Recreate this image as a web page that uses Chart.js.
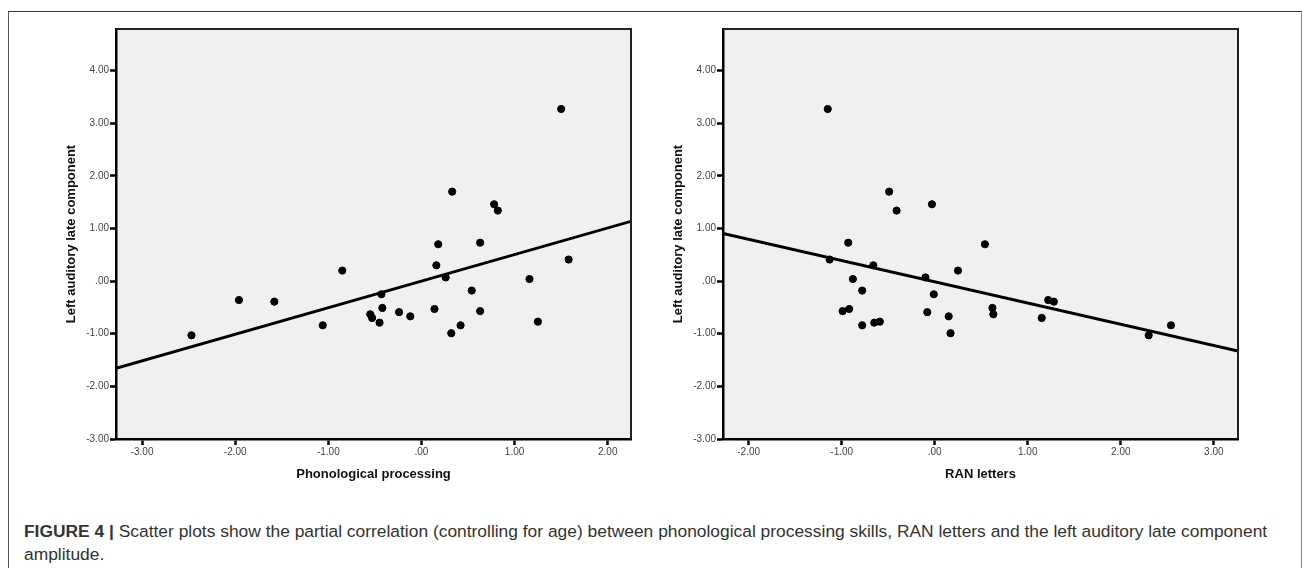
<!DOCTYPE html>
<html>
<head>
<meta charset="utf-8">
<script src="https://cdn.jsdelivr.net/npm/chart.js@4"></script>
<style>
  body { margin: 0; background: #fff; width: 1303px; height: 568px; overflow: hidden; position: relative; }
  #frame { position: absolute; left: 8px; top: 11px; width: 1292px; height: 600px;
           border-top: 1px solid #333; border-left: 1px solid #555; border-right: 1px solid #888; }
  canvas { position: absolute; top: 0; }
  #left { left: 0; }
  #right { left: 607px; }
  #caption { position: absolute; left: 24px; top: 520px; font-family: "Liberation Sans", Arial, sans-serif;
             font-size: 17.4px; line-height: 23px; color: #333; white-space: nowrap; }
  #caption b { color: #333; }
</style>
</head>
<body>
<div id="frame"></div>
<canvas id="left" width="660" height="490"></canvas>
<canvas id="right" width="660" height="490"></canvas>
<div id="caption"><b>FIGURE 4 |</b> Scatter plots show the partial correlation (controlling for age) between phonological processing skills, RAN letters and the left auditory late component<br>amplitude.</div>

<script>
// left auditory late component amplitude, one value per child
let amplitude = [-1.03, -0.36, -0.39, -0.84, 0.20, -0.63, -0.70, -0.79, -0.25, -0.51,
                 -0.59, -0.67, -0.53, 0.30, 0.70, 0.07, -0.99, 1.70, -0.84, -0.18,
                 -0.57, 0.73, 1.46, 1.34, 0.04, -0.77, 3.27, 0.41];
// same children, in the same order
let phonological = [-2.47, -1.96, -1.58, -1.06, -0.85, -0.55, -0.53, -0.45, -0.43, -0.42,
                    -0.24, -0.12, 0.14, 0.16, 0.18, 0.26, 0.32, 0.33, 0.42, 0.54,
                    0.63, 0.63, 0.78, 0.82, 1.16, 1.25, 1.50, 1.58];
let ranLetters = [2.30, 1.22, 1.28, 2.54, 0.25, 0.63, 1.15, -0.65, -0.01, 0.62,
                  -0.08, 0.15, -0.92, -0.66, 0.54, -0.10, 0.17, -0.49, -0.78, -0.78,
                  -0.99, -0.93, -0.03, -0.41, -0.88, -0.59, -1.15, -1.13];

// fit lines (slope, intercept)
let fitPhon = [0.505, 0.0];
let fitRan = [-0.4035, -0.013];

let yTicks = [-3, -2, -1, 0, 1, 2, 3, 4];
let yTickLabels = ["-3.00", "-2.00", "-1.00", ".00", "1.00", "2.00", "3.00", "4.00"];
let xTicksPhon = [-3, -2, -1, 0, 1, 2];
let xTickLabelsPhon = ["-3.00", "-2.00", "-1.00", ".00", "1.00", "2.00"];
let xTicksRan = [-2, -1, 0, 1, 2, 3];
let xTickLabelsRan = ["-2.00", "-1.00", ".00", "1.00", "2.00", "3.00"];

const FONT = "'Liberation Sans', Arial, sans-serif";

// grey plot background + thin frame on top/right
const plotBox = {
  id: "plotBox",
  beforeDraw(chart) {
    const a = chart.chartArea, ctx = chart.ctx;
    ctx.save();
    ctx.fillStyle = "#f0f0f0";
    ctx.fillRect(a.left, a.top, a.right - a.left, a.bottom - a.top);
    ctx.restore();
  },
  afterDraw(chart) {
    const a = chart.chartArea, ctx = chart.ctx;
    ctx.save();
    ctx.strokeStyle = "#222";
    ctx.lineWidth = 2;
    ctx.beginPath();
    ctx.moveTo(a.left, a.top);
    ctx.lineTo(a.right, a.top);
    ctx.lineTo(a.right, a.bottom);
    ctx.stroke();
    ctx.restore();
  }
};

function makeChart(id, xs, fit, xMin, xMax, xTicks, xLabels, xTitle) {
  let points = xs.map((x, i) => ({ x: x, y: amplitude[i] }));
  let line = [xMin, xMax].map(x => ({ x: x, y: fit[1] + fit[0] * x }));

  return new Chart(document.getElementById(id), {
    type: "scatter",
    data: {
      datasets: [
        { data: points, backgroundColor: "#000", borderColor: "#000", pointRadius: 3.6, pointHoverRadius: 3.6, order: 0 },
        { data: line, showLine: true, borderColor: "#000", borderWidth: 2.8, pointRadius: 0, order: 1 }
      ]
    },
    options: {
      responsive: false,
      animation: false,
      events: [],
      layout: { padding: { top: 29, right: 29, left: 0, bottom: 0 } },
      plugins: { legend: { display: false }, tooltip: { enabled: false } },
      scales: {
        x: {
          type: "linear",
          min: xMin, max: xMax,
          afterBuildTicks: s => { s.ticks = xTicks.map(v => ({ value: v })); },
          afterFit: s => { s.height = 51; },
          grid: { drawOnChartArea: false, drawTicks: true, tickLength: 6, tickWidth: 2.5, tickColor: "#000" },
          border: { display: true, color: "#000", width: 2.5 },
          ticks: { padding: 1, color: "#444", font: { family: FONT, size: 10 },
                   maxRotation: 0, autoSkip: false,
                   callback: (v, i) => xLabels[i] },
          title: { display: true, text: xTitle, color: "#111", padding: { top: 0, bottom: 8 },
                   font: { family: FONT, size: 13, weight: "bold" } }
        },
        y: {
          type: "linear",
          min: -3, max: 4.79,
          afterBuildTicks: s => { s.ticks = yTicks.map(v => ({ value: v })); },
          afterFit: s => { s.width = 116; },
          grid: { drawOnChartArea: false, drawTicks: true, tickLength: 6, tickWidth: 2.5, tickColor: "#000" },
          border: { display: true, color: "#000", width: 2.5 },
          ticks: { padding: 1, color: "#444", font: { family: FONT, size: 10 },
                   autoSkip: false,
                   callback: (v, i) => yTickLabels[i] },
          title: { display: true, text: "Left auditory late component", color: "#111",
                   padding: { top: 64, bottom: 0 },
                   font: { family: FONT, size: 13, weight: "bold" } }
        }
      }
    },
    plugins: [plotBox]
  });
}

makeChart("left", phonological, fitPhon, -3.28, 2.25, xTicksPhon, xTickLabelsPhon, "Phonological processing");
makeChart("right", ranLetters, fitRan, -2.276, 3.26, xTicksRan, xTickLabelsRan, "RAN letters");
</script>
</body>
</html>
